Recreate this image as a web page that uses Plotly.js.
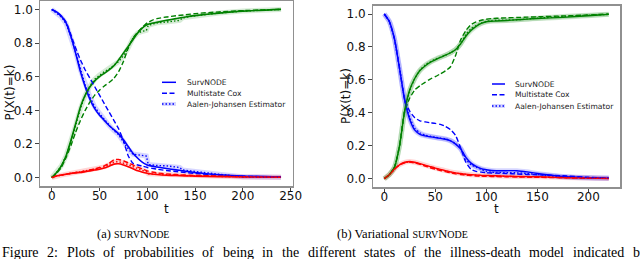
<!DOCTYPE html>
<html><head><meta charset="utf-8">
<script src="https://cdn.plot.ly/plotly-3.0.1.min.js"></script>
<style>html,body{margin:0;padding:0;background:#fff;overflow:hidden}#chart{width:640px;height:259px}</style>
</head><body><div id="chart"></div>
<script>
// ---------- panel (a) SurvNODE ----------
const tA = [0,5,10,15,20,25,30,35,40,45,50,55,60,65,70,75,80,85,90,95,100,105,110,120,130,140,150,175,200,240];
const aNodeHealthy = [1.0,0.985,0.96,0.92,0.84,0.74,0.63,0.54,0.465,0.41,0.37,0.34,0.31,0.285,0.26,0.225,0.185,0.145,0.115,0.09,0.075,0.068,0.063,0.054,0.046,0.038,0.03,0.017,0.009,0.004];
const aCoxHealthy  = [1.0,0.985,0.96,0.925,0.85,0.77,0.70,0.64,0.59,0.54,0.49,0.44,0.39,0.34,0.29,0.22,0.13,0.085,0.075,0.068,0.06,0.055,0.05,0.042,0.036,0.03,0.025,0.015,0.008,0.003];
const aNodeDead    = [0,0.03,0.07,0.13,0.22,0.32,0.42,0.49,0.54,0.575,0.60,0.62,0.64,0.665,0.70,0.74,0.78,0.82,0.86,0.89,0.91,0.918,0.923,0.935,0.945,0.955,0.963,0.978,0.99,1.0];
const aCoxDead     = [0,0.025,0.06,0.12,0.19,0.27,0.34,0.40,0.45,0.49,0.52,0.545,0.565,0.59,0.63,0.69,0.77,0.83,0.865,0.895,0.92,0.935,0.945,0.955,0.962,0.968,0.975,0.985,0.993,1.0];
const aNodeIll     = [0,0.01,0.015,0.02,0.025,0.028,0.03,0.035,0.04,0.045,0.05,0.057,0.068,0.08,0.082,0.075,0.065,0.053,0.04,0.032,0.026,0.021,0.018,0.014,0.012,0.01,0.009,0.006,0.004,0.002];
const aCoxIll      = [0,0.01,0.015,0.02,0.025,0.03,0.033,0.038,0.045,0.052,0.06,0.07,0.085,0.105,0.108,0.1,0.088,0.075,0.062,0.05,0.04,0.033,0.028,0.022,0.018,0.015,0.013,0.009,0.005,0.002];
const tA_aj = [0,5,10,15,20,25,30,35,40,45,50,55,60,65,70,75,80,85,90,95,99,101,110,120,130,134,137,150,175,200,240];
const aAjHealthy = [1.0,0.98,0.955,0.915,0.84,0.745,0.64,0.55,0.48,0.42,0.38,0.345,0.31,0.28,0.255,0.215,0.17,0.14,0.135,0.13,0.128,0.078,0.072,0.07,0.066,0.06,0.045,0.035,0.02,0.005,0.002];
const aAjDead    = [0,0.03,0.07,0.13,0.21,0.31,0.41,0.49,0.545,0.585,0.61,0.63,0.645,0.665,0.69,0.725,0.77,0.83,0.86,0.87,0.875,0.905,0.92,0.925,0.93,0.935,0.95,0.962,0.978,0.99,1.0];
const aAjIll     = [0,0.01,0.015,0.02,0.025,0.028,0.032,0.037,0.043,0.05,0.056,0.064,0.076,0.092,0.095,0.088,0.077,0.065,0.052,0.042,0.036,0.022,0.02,0.017,0.015,0.014,0.012,0.01,0.007,0.004,0.002];

// ---------- panel (b) Variational SurvNODE ----------
const tB = [0,5,10,15,20,25,30,35,40,45,50,55,60,65,70,75,80,85,90,95,100,105,110,120,130,140,150,175,200,220];
const bNodeHealthy = [1.0,0.955,0.85,0.67,0.48,0.36,0.295,0.27,0.26,0.255,0.25,0.245,0.24,0.23,0.21,0.18,0.13,0.095,0.075,0.062,0.055,0.05,0.049,0.049,0.049,0.042,0.032,0.014,0.007,0.004];
const bCoxHealthy  = [1.0,0.955,0.85,0.67,0.48,0.41,0.37,0.352,0.345,0.34,0.336,0.33,0.318,0.298,0.262,0.185,0.1,0.058,0.045,0.04,0.037,0.035,0.034,0.032,0.029,0.026,0.024,0.018,0.009,0.004];
const bAjHealthy   = [1.0,0.955,0.85,0.67,0.48,0.37,0.305,0.278,0.265,0.258,0.252,0.247,0.242,0.232,0.212,0.185,0.12,0.085,0.07,0.058,0.045,0.04,0.038,0.037,0.036,0.032,0.026,0.012,0.005,0.003];
const bNodeDead    = [0,0.025,0.069,0.2,0.41,0.54,0.61,0.657,0.685,0.707,0.722,0.737,0.75,0.765,0.785,0.82,0.865,0.9,0.925,0.943,0.953,0.956,0.958,0.961,0.965,0.969,0.973,0.98,0.99,0.998];
const bCoxDead     = [0,0.025,0.069,0.2,0.41,0.49,0.54,0.565,0.585,0.605,0.62,0.637,0.655,0.68,0.75,0.845,0.9,0.935,0.952,0.962,0.968,0.972,0.974,0.977,0.979,0.981,0.983,0.988,0.994,1.0];
const bAjDead      = [0,0.025,0.069,0.2,0.41,0.535,0.61,0.66,0.69,0.71,0.725,0.738,0.75,0.765,0.785,0.82,0.875,0.91,0.93,0.945,0.955,0.96,0.962,0.963,0.965,0.97,0.975,0.985,0.993,0.998];
const bNodeIll     = [0,0.025,0.059,0.085,0.1,0.105,0.1,0.092,0.083,0.074,0.065,0.057,0.049,0.042,0.036,0.032,0.028,0.025,0.023,0.021,0.02,0.019,0.018,0.016,0.014,0.013,0.012,0.008,0.004,0.002];
const bCoxIll      = [0,0.025,0.057,0.083,0.097,0.101,0.096,0.087,0.077,0.067,0.058,0.05,0.043,0.036,0.03,0.026,0.022,0.019,0.017,0.016,0.015,0.014,0.013,0.012,0.011,0.01,0.009,0.006,0.003,0.002];
const bAjIll       = [0,0.025,0.058,0.084,0.098,0.103,0.098,0.09,0.08,0.071,0.062,0.054,0.047,0.04,0.034,0.03,0.026,0.023,0.021,0.019,0.018,0.017,0.016,0.014,0.013,0.012,0.011,0.007,0.004,0.002];

// ---------- ticks & labels ----------
const xTicksA = [0,50,100,150,200,250];
const xTicksB = [0,50,100,150,200];
const yTicks = [0,0.2,0.4,0.6,0.8,1.0];
const legendNames = ['SurvNODE','Multistate Cox','Aalen-Johansen Estimator'];
const xTitle = 't';
const yTitle = 'P(X(t)=k)';
const SC = s => '<span style="font-size:10px">' + s + '</span>';   // small caps imitation
const captionA = '(a) ' + SC('SURV') + 'N' + SC('ODE');
const captionB = '(b) Variational ' + SC('SURV') + 'N' + SC('ODE');
const figWords = ['Figure','2:','Plots','of','probabilities','of','being','in','the','different','states','of','the','illness-death','model','indicated','by'];

const BLUE='#0000ff', GREEN='#008000', RED='#ff0000';
const BAND = {'#0000ff':'rgba(0,0,255,0.16)','#008000':'rgba(0,128,0,0.16)','#ff0000':'rgba(255,0,0,0.16)'};
const DASH = '5px,2.5px', DOT = '1.5px,2px';

function tr(x,y,color,dash,ax,width,shape){
  return {type:'scatter',mode:'lines',x:x,y:y,xaxis:ax===2?'x2':'x',yaxis:ax===2?'y2':'y',
    line:{color:color,width:width,dash:dash,shape:shape||'spline',smoothing:0.5},hoverinfo:'skip',showlegend:false};
}
const traces = [];
[[aAjHealthy,BLUE],[aAjDead,GREEN],[aAjIll,RED]].forEach(([y,c])=>traces.push(tr(tA_aj,y,BAND[c],'solid',1,5,'linear')));
[[bNodeHealthy,BLUE],[bNodeDead,GREEN],[bNodeIll,RED],[bAjHealthy,BLUE],[bAjDead,GREEN]].forEach(([y,c])=>traces.push(tr(tB,y,BAND[c],'solid',2,5)));
[[aNodeHealthy,BLUE],[aNodeDead,GREEN],[aNodeIll,RED]].forEach(([y,c])=>traces.push(tr(tA,y,c,'solid',1,1.6)));
[[aCoxHealthy,BLUE],[aCoxDead,GREEN],[aCoxIll,RED]].forEach(([y,c])=>traces.push(tr(tA,y,c,DASH,1,1.4)));
[[aAjHealthy,BLUE],[aAjDead,GREEN],[aAjIll,RED]].forEach(([y,c])=>traces.push(tr(tA_aj,y,c,DOT,1,1.4,'linear')));
[[bNodeHealthy,BLUE],[bNodeDead,GREEN],[bNodeIll,RED]].forEach(([y,c])=>traces.push(tr(tB,y,c,'solid',2,1.4)));
[[bCoxHealthy,BLUE],[bCoxDead,GREEN],[bCoxIll,RED]].forEach(([y,c])=>traces.push(tr(tB,y,c,DASH,2,1.4)));
[[bAjHealthy,BLUE],[bAjDead,GREEN],[bAjIll,RED]].forEach(([y,c])=>traces.push(tr(tB,y,c,DOT,2,1.4)));

const W=640,H=259;
const px = v=>v/W, py = v=>1-v/H;
const axisCommon = {showline:true,mirror:true,linecolor:'#909090',linewidth:1.5,ticks:'outside',ticklen:3.5,tickwidth:1,
  tickcolor:'#444',showgrid:false,zeroline:false,fixedrange:true,
  tickfont:{family:'DejaVu Sans',size:12,color:'#111'}};

const shapes=[], annotations=[];
function ann(text,x,y,opts){
  annotations.push(Object.assign({text:text,xref:'paper',yref:'paper',x:px(x),y:py(y),showarrow:false,borderpad:0,
    xanchor:'center',yanchor:'middle',font:{family:'DejaVu Sans',size:12,color:'#111'}},opts||{}));
}
ann(xTitle,166,209); ann(xTitle,496.5,209);
ann(yTitle,9.5,93,{textangle:-90}); ann(yTitle,346,96,{textangle:-90});
function legend(x0,x1,tx,ys){
  const dashes=['solid',DASH,DOT];
  ys.forEach((y,i)=>{
    if(i===2) shapes.push({type:'line',xref:'paper',yref:'paper',x0:px(x0),x1:px(x1),y0:py(y),y1:py(y),line:{color:BAND[BLUE],width:4}});
    shapes.push({type:'line',xref:'paper',yref:'paper',x0:px(x0),x1:px(x1),y0:py(y),y1:py(y),line:{color:BLUE,width:1.5,dash:dashes[i]}});
    ann(legendNames[i],tx,y,{xanchor:'left',font:{family:'DejaVu Sans',size:7.6,color:'#222'}});
  });
}
legend(162,176,185.5,[82.3,93.3,104]);
legend(492,505,513.5,[84,94.7,106]);
ann(captionA,132.5,234,{font:{family:'Liberation Serif',size:12.5,color:'#000'}});
ann(captionB,402.5,234,{font:{family:'Liberation Serif',size:12.5,color:'#000'}});
// justified figure caption line (cut at the bottom/right edge as in the source)
const ctx=document.createElement('canvas').getContext('2d');
const capSize=14;
ctx.font=capSize+'px "Liberation Serif"';
const wds=figWords.map(w=>ctx.measureText(w).width);
const sumBefore=wds.slice(0,-1).reduce((a,b)=>a+b,0);
const gap=(632-1-sumBefore)/(figWords.length-1);
let cx=1;
figWords.forEach((w,i)=>{
  ann(w,cx,252.5,{xanchor:'left',font:{family:'Liberation Serif',size:capSize,color:'#000'}});
  cx+=wds[i]+gap;
});

const layout={width:W,height:H,margin:{l:0,r:0,t:0,b:0,pad:0},paper_bgcolor:'#fff',plot_bgcolor:'#fff',showlegend:false,
  xaxis:Object.assign({},axisCommon,{domain:[px(40.3),px(292.5)],range:[-12,252],tickvals:xTicksA,anchor:'y',ticklabelstandoff:-5}),
  yaxis:Object.assign({},axisCommon,{domain:[py(186),py(1)],range:[-0.05,1.05],tickvals:yTicks,tickformat:'.1f',anchor:'x'}),
  xaxis2:Object.assign({},axisCommon,{domain:[px(373),px(620)],range:[-11,231],tickvals:xTicksB,anchor:'y2',ticklabelstandoff:-5}),
  yaxis2:Object.assign({},axisCommon,{domain:[py(187),py(5.8)],range:[-0.05,1.05],tickvals:yTicks,tickformat:'.1f',anchor:'x2'}),
  shapes:shapes,annotations:annotations};
Plotly.newPlot('chart',traces,layout,{displayModeBar:false,staticPlot:true});
</script></body></html>
